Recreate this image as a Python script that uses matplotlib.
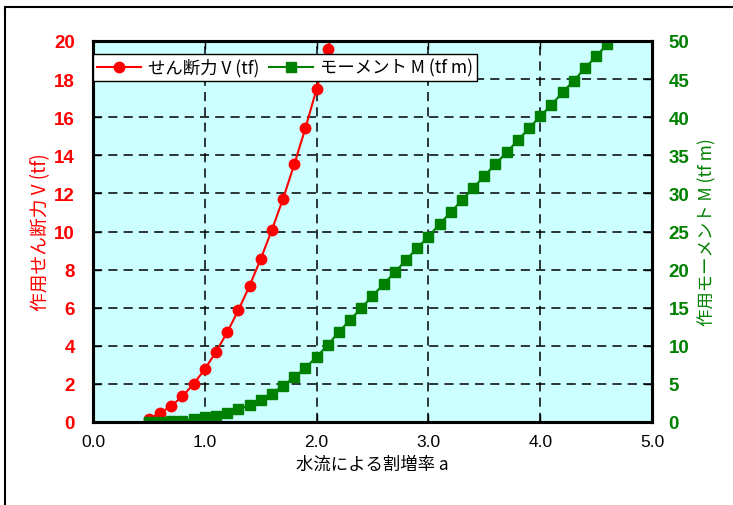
import numpy as np
import matplotlib
matplotlib.use("Agg")
import matplotlib.pyplot as plt
from matplotlib.patches import Rectangle

plt.rcParams['font.family'] = ['Liberation Sans', 'Noto Sans CJK JP', 'DejaVu Sans']

# === Data ===
a_shear = [0.5, 0.6, 0.7, 0.8, 0.9, 1.0, 1.1, 1.2, 1.3, 1.4,
           1.5, 1.6, 1.7, 1.8, 1.9, 2.0, 2.1, 2.2]
shear_V = [0.17, 0.47, 0.84, 1.35, 2.0, 2.77, 3.68, 4.7, 5.87, 7.14,
           8.56, 10.08, 11.72, 13.52, 15.43, 17.48, 19.58, 21.75]

a_moment = [0.5, 0.6, 0.7, 0.8, 0.9, 1.0, 1.1, 1.2, 1.3, 1.4,
            1.5, 1.6, 1.7, 1.8, 1.9, 2.0, 2.1, 2.2, 2.3, 2.4,
            2.5, 2.6, 2.7, 2.8, 2.9, 3.0, 3.1, 3.2, 3.3, 3.4,
            3.5, 3.6, 3.7, 3.8, 3.9, 4.0, 4.1, 4.2, 4.3, 4.4,
            4.5, 4.6, 4.7]
moment_M = [0.0, 0.05, 0.1, 0.15, 0.35, 0.6, 0.85, 1.18, 1.67, 2.2,
            2.93, 3.71, 4.76, 5.86, 7.1, 8.57, 10.1, 11.85, 13.39, 14.96,
            16.54, 18.11, 19.65, 21.26, 22.83, 24.32, 25.98, 27.52, 29.13, 30.67,
            32.3, 33.86, 35.4, 36.97, 38.54, 40.12, 41.6, 43.27, 44.79, 46.42,
            47.99, 49.57, 51.15]

x_ticks = [0.0, 1.0, 2.0, 3.0, 4.0, 5.0]
v_ticks = list(range(0, 21, 2))
m_ticks = list(range(0, 51, 5))

RED = '#FF0000'
GREEN = '#008000'
jp = ['Noto Sans CJK JP', 'DejaVu Sans']

fig = plt.figure(figsize=(7.33, 5.06), dpi=100)
ax = fig.add_axes([93/733, 1-423/506, (652-93)/733, (423-42)/506])
ax.set_facecolor('#CCFFFF')
ax2 = ax.twinx()

l1, = ax.plot(a_shear, shear_V, color=RED, lw=1.5, marker='o', ms=7.5,
              label='せん断力 V (tf)')
l2, = ax2.plot(a_moment, moment_M, color=GREEN, lw=1.5, marker='s', ms=7.8,
               label='モーメント M (tf m)')

ax.set_xlim(0, 5)
ax.set_ylim(0, 20)
ax2.set_ylim(0, 50)
ax.set_xticks(x_ticks)
ax.set_xticklabels([f"{t:.1f}" for t in x_ticks], fontsize=12.5)
ax.set_yticks(v_ticks)
ax.set_yticklabels([str(t) for t in v_ticks], fontsize=13.5, fontweight='bold', color=RED)
ax2.set_yticks(m_ticks)
ax2.set_yticklabels([str(t) for t in m_ticks], fontsize=13.5, fontweight='bold', color=GREEN)

ax.tick_params(axis='both', direction='in', length=6, width=1, top=True, pad=9)
ax.tick_params(axis='y', pad=13)
ax2.tick_params(axis='y', direction='in', length=6, width=1, pad=12)

ax.grid(True, color='black', linestyle=(0, (6, 4)), linewidth=1.1)
ax.set_axisbelow(True)

for sp in list(ax.spines.values()) + list(ax2.spines.values()):
    sp.set_linewidth(2.2)

ax.set_xlabel('水流による割増率 a', fontsize=12.5, family=jp, labelpad=4)
ax.set_ylabel('作用せん断力 V (tf)', fontsize=13.5, family=jp, color=RED, labelpad=2)
ax2.set_ylabel('作用モーメント M (tf m)', fontsize=12.5, family=jp, color=GREEN, labelpad=6)

leg = ax2.legend([l1, l2], [l1.get_label(), l2.get_label()], loc='upper left',
                 bbox_to_anchor=(0, 1 - 13/381), borderaxespad=0, ncol=2,
                 fancybox=False, framealpha=1, edgecolor='black',
                 prop={'family': jp, 'size': 12.5}, handlelength=2.5,
                 columnspacing=0.6, handletextpad=0.4, borderpad=0.25)
leg.get_frame().set_linewidth(1.0)

# outer border of the chart frame
fig.patches.append(Rectangle((4.5/733, -0.1), 1.2, 1.1 - 7.5/506,
                             transform=fig.transFigure, fill=False,
                             edgecolor='black', lw=1.5))

fig.savefig('out.png', dpi=100)
